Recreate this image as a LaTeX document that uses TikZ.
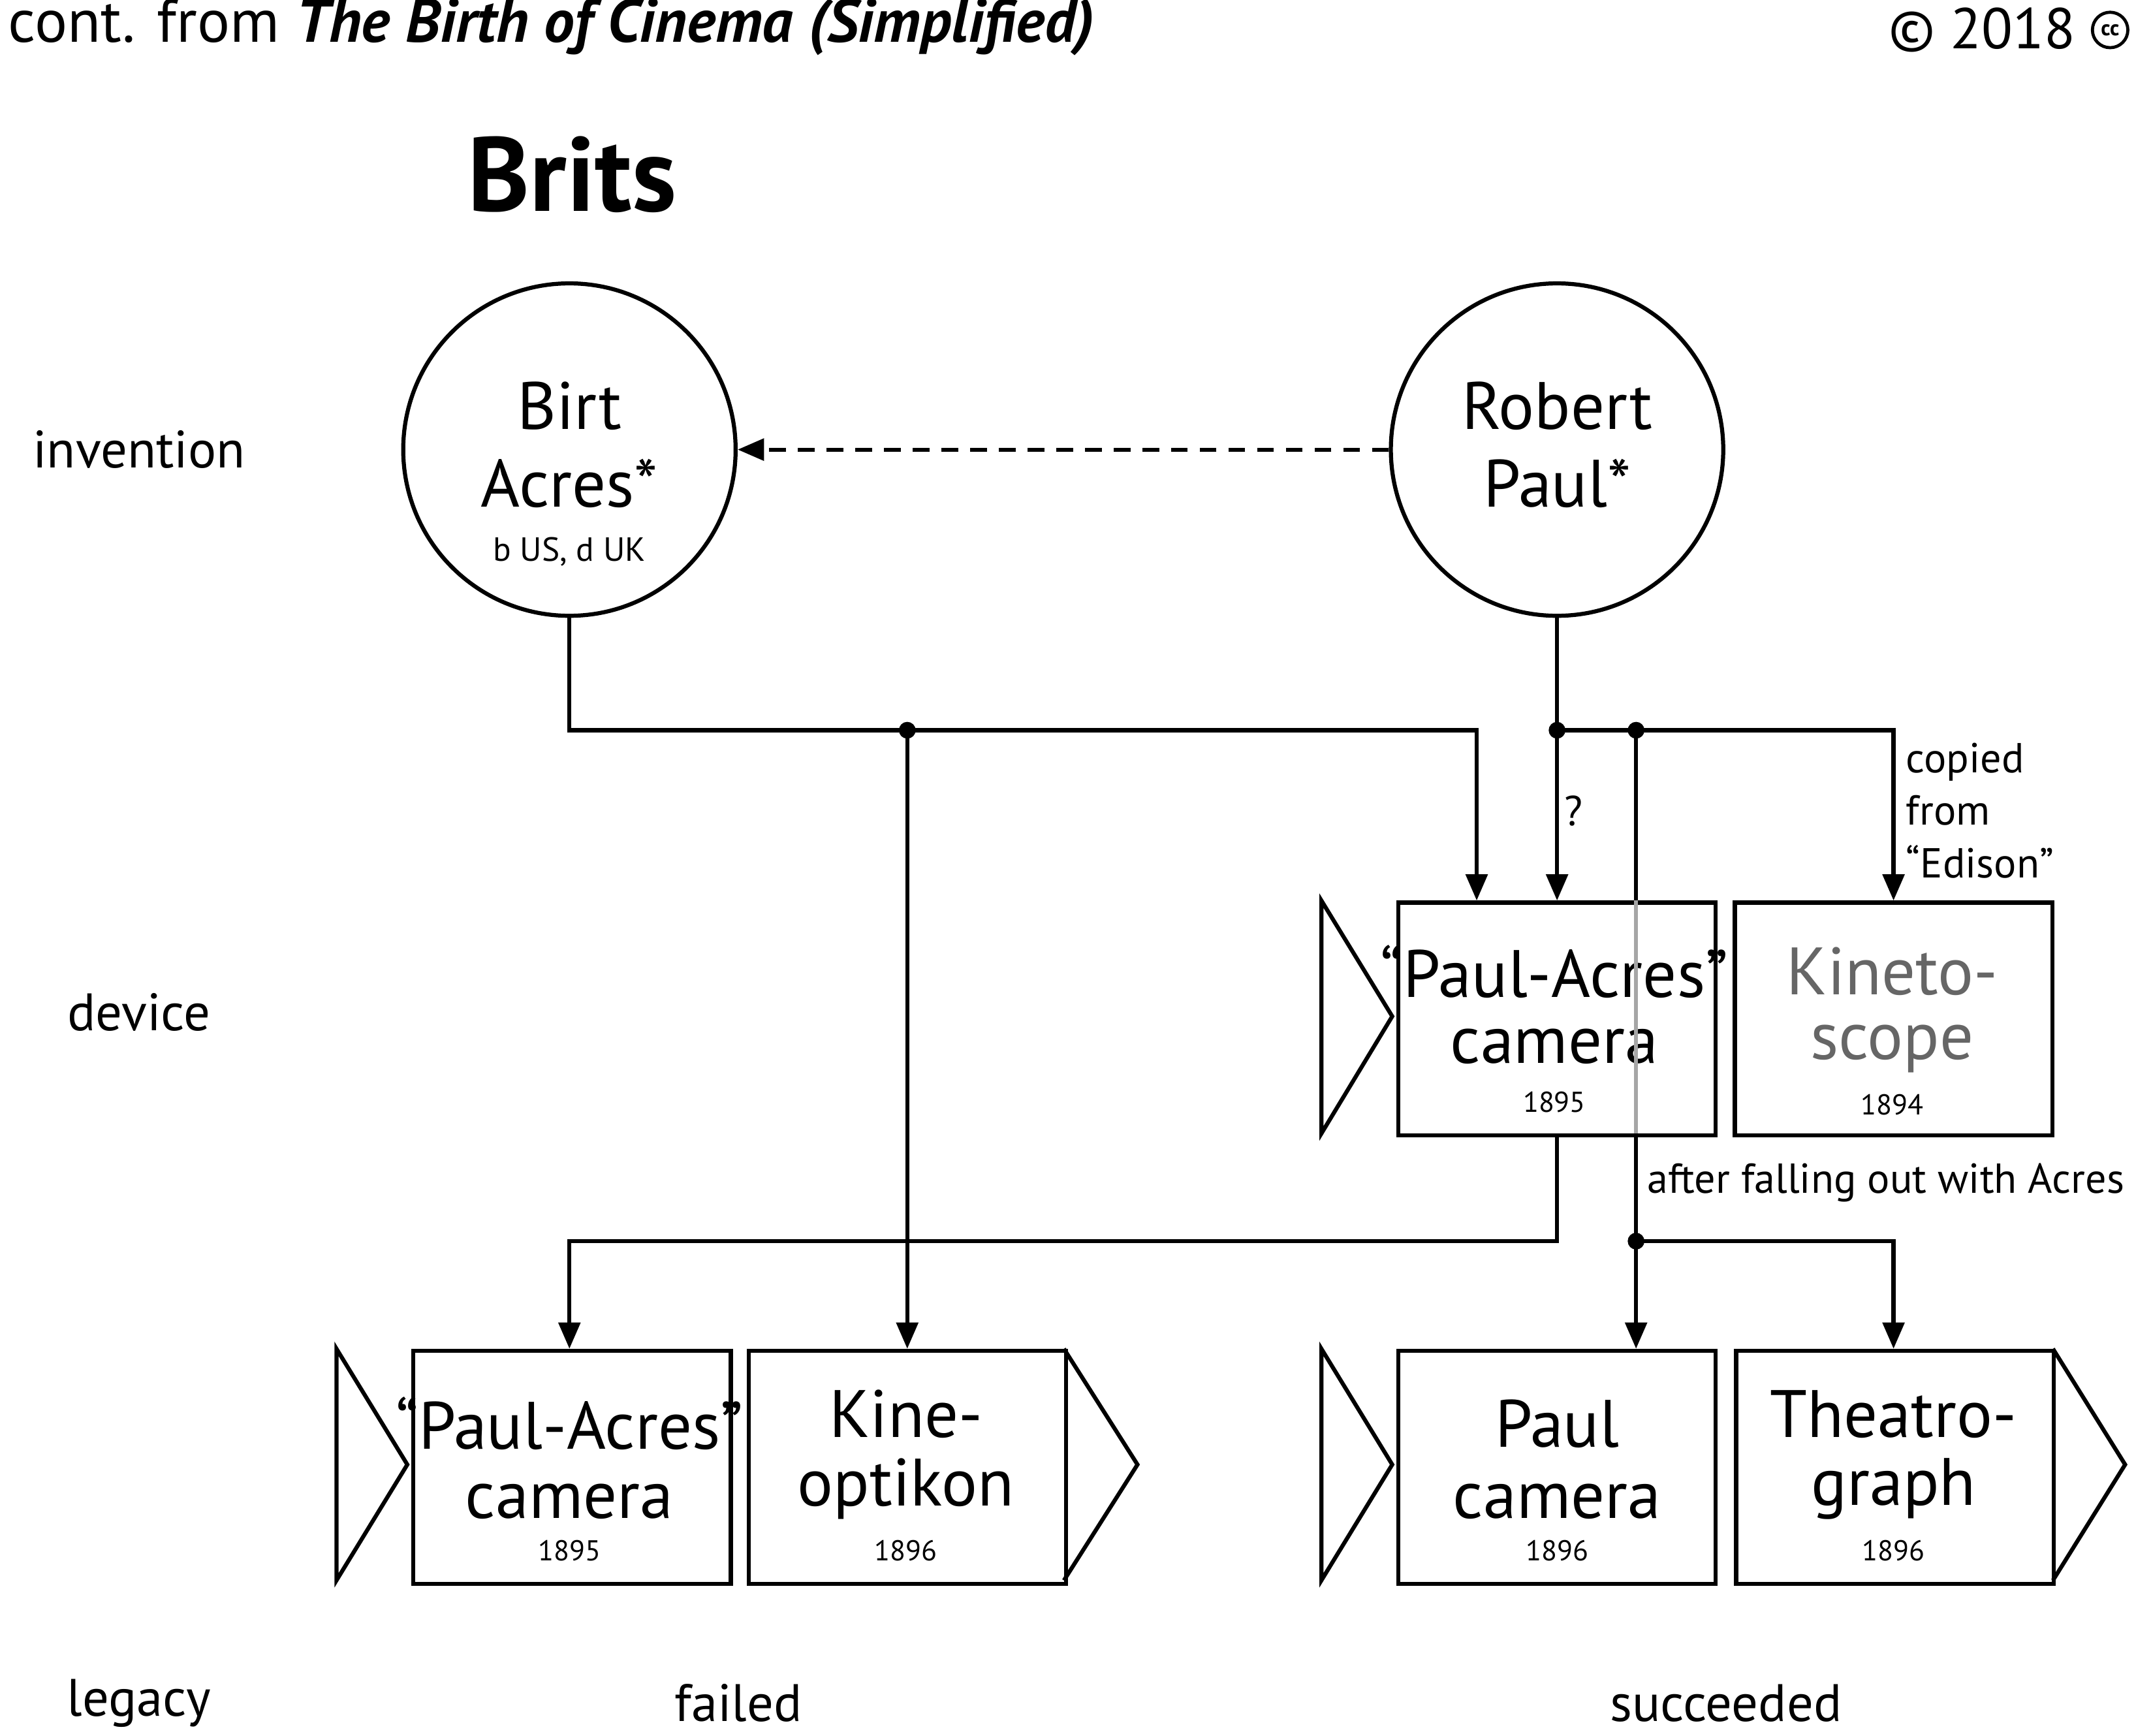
\documentclass[tikz,border=0pt]{standalone}
\usepackage{fontspec}
\setmainfont{PT Sans}
\usetikzlibrary{arrows.meta}
\begin{document}
\begin{tikzpicture}[x=0.02cm,y=-0.02cm,
  ln/.style={line width=1.7pt},
  ar/.style={ln,-{Triangle[length=11pt,width=9pt]}},
  dot/.style={circle,fill,inner sep=0pt,minimum size=7pt},
  circ/.style={circle,draw,line width=1.7pt,minimum size=244*0.02cm,inner sep=0pt},
  box/.style={draw,line width=1.7pt,minimum width=233*0.02cm,minimum height=171*0.02cm,inner sep=0pt,anchor=north west},
  big/.style={font=\fontsize{28}{34}\selectfont},
  sm/.style={font=\fontsize{12}{14}\selectfont},
  lab/.style={font=\fontsize{22}{26}\selectfont},
  note/.style={font=\fontsize{17.5}{22}\selectfont,align=left}]
\useasboundingbox (0,0) rectangle (1568,1274);
\node[anchor=west,font=\fontsize{25.5}{30}\selectfont] (hdr) at (0,20) {cont. from \textbf{\textit{The Birth of Cinema (Simplified)}}};
\node[anchor=east,font=\fontsize{24}{28}\selectfont] (cp) at (1530,22) {© 2018};
\node[circle,draw,line width=1.3pt,inner sep=0pt,minimum size=26*0.02cm,font=\fontsize{9}{9}\selectfont\bfseries] (cc) at (1549,22) {cc};
\node[font=\fontsize{44}{50}\selectfont\bfseries] (title) at (420,128) {Brits};
\node[lab] (inv) at (102,330) {invention};
\node[lab] (dev) at (102,743) {device};
\node[lab] (leg) at (102,1250) {legacy};
\node[lab] (fail) at (542,1250) {failed};
\node[lab] (succ) at (1267,1250) {succeeded};

\node[circ] (birt) at (418,330) {};
\node[big] (birt1) at (418,298) {Birt};
\node[big] (birt2) at (418,355) {Acres*};
\node[font=\fontsize{14}{16}\selectfont] (birt3) at (418,405) {b US, d UK};
\node[circ] (paul) at (1143,330) {};
\node[big] (paul1) at (1143,298) {Robert};
\node[big] (paul2) at (1143,355) {Paul*};
\draw[ar,dash pattern=on 7pt off 5pt] (paul.west) -- (birt.east);

% device boxes
\draw[ln] (970,661) -- (1022,746) -- (970,832) -- cycle;
\node[box] (pac) at (1025,661) {};
\node[box] (kin) at (1272,661) {};
\node[big] (pact) at (1141,713) {“Paul-Acres”};
\node[big] (pacc) at (1141,768) {camera};
\node[sm] (pacy) at (1141,809) {1895};
\node[big,text=black!60] (kint) at (1389,713) {Kineto-};
\node[big,text=black!60] (kinc) at (1389,770) {scope};
\node[sm] (kiny) at (1389,811) {1894};

% legacy boxes
\draw[ln] (247,990) -- (299,1075) -- (247,1160) -- cycle;
\node[box] (b1) at (302,990) {};
\draw[ln] (781,990) -- (835,1075) -- (781,1160);
\node[box] (b2) at (548,990) {};
\draw[ln] (970,990) -- (1022,1075) -- (970,1160) -- cycle;
\node[box] (b3) at (1025,990) {};
\draw[ln] (1507,990) -- (1560,1075) -- (1507,1160);
\node[box] (b4) at (1273,990) {};
\node[big] (t1a) at (418,1045) {“Paul-Acres”};
\node[big] (t1b) at (418,1102) {camera};
\node[sm] (t1c) at (418,1138) {1895};
\node[big] (t2a) at (665,1038) {Kine-};
\node[big] (t2b) at (665,1093) {optikon};
\node[sm] (t2c) at (665,1138) {1896};
\node[big] (t3a) at (1143,1045) {Paul};
\node[big] (t3b) at (1143,1102) {camera};
\node[sm] (t3c) at (1143,1138) {1896};
\node[big] (t4a) at (1390,1038) {Theatro-};
\node[big] (t4b) at (1390,1093) {graph};
\node[sm] (t4c) at (1390,1138) {1896};

% connectors
\coordinate (j1) at (666,536);
\coordinate (j2) at (1143,536);
\coordinate (j3) at (1201,536);
\coordinate (j4) at (1201,911);
\node[dot] at (j1) {};
\node[dot] at (j2) {};
\node[dot] at (j3) {};
\node[dot] at (j4) {};
\draw[ar] (birt.south) |- (j1) -- (1084,536) -- (1084,661);
\draw[ar] (j1) -- (666,990);
\draw[ar] (paul.south) -- (j2) -- (1143,661);
\node[note] (q) at (1155,595) {?};
\draw[ar] (j2) -- (1390,536) -- (1390,661);
\node[note,anchor=west] (cop) at (1393,595) {copied\\from\\“Edison”};
\draw[ln] (j3) -- (1201,661);
\draw[ln,black!35] (1201,661) -- (1201,832);
\draw[ln] (1201,832) -- (j4);
\draw[ar] (j4) -- (1201,990);
\draw[ar] (j4) -- (1390,911) -- (1390,990);
\node[note,anchor=west] (fall) at (1203,868) {after falling out with Acres};
\draw[ar] (1143,832) -- (1143,911) -- (418,911) -- (418,990);
\end{tikzpicture}
\end{document}
